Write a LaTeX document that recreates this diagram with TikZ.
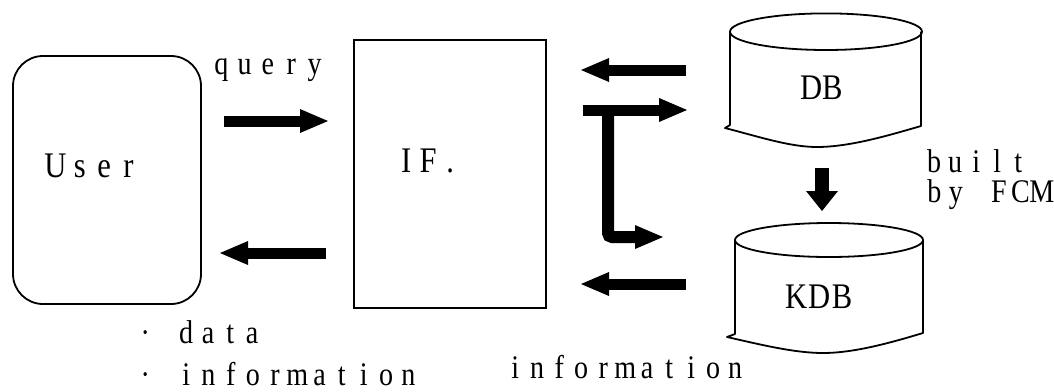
\documentclass[tikz,border=0pt]{standalone}
\usepackage{fontspec}
\setmainfont{Liberation Serif}[FakeStretch=0.85]
\usetikzlibrary{arrows.meta}
\ExplSyntaxOn
\NewDocumentCommand\monotext{O{22pt}m}{\str_map_inline:nn{#2}{\makebox[#1][c]{##1}}}
\ExplSyntaxOff
\begin{document}
\begin{tikzpicture}[x=1pt,y=-1pt,
  box/.style={draw, line width=1.8pt, inner sep=0},
  txt/.style={font=\fontsize{33}{36}\selectfont, inner sep=0, anchor=base west},
  bigtxt/.style={font=\fontsize{36}{40}\selectfont, inner sep=0, anchor=base west},
  fat/.style={line width=11pt, -{Triangle[length=28pt 0 0,width=24pt 0 0,line width=0pt]}},
  cyl/.style={line width=1.8pt, line join=round}]
\useasboundingbox (0,0) rectangle (1054,391);
% boxes
\node[box, rounded corners=30pt, minimum width=188pt, minimum height=248pt] (user) at (107,180) {};
\node[box, minimum width=192pt, minimum height=268pt] (if) at (450,174) {};
% cylinders
\draw[cyl] (826,31.7) ellipse [x radius=96pt, y radius=18.3pt];
\draw[cyl] (730,31.7) -- (730,125) -- (725,128) .. controls (760,137) and (790,147) .. (817,147) .. controls (850,147) and (890,135) .. (921,126) -- (921,31.7);
\draw[cyl] (829,240) ellipse [x radius=94pt, y radius=17pt];
\draw[cyl] (735,240) -- (735,334) -- (727,337) .. controls (762,345) and (795,353) .. (823,353) .. controls (855,353) and (893,342) .. (923,333) -- (923,240);
% labels
\node[bigtxt] (userlbl) at (43,177) {\monotext[24.4pt]{User}};
\node[bigtxt] (iflbl) at (395,172) {\monotext[22pt]{IF.}};
\node[bigtxt] (db) at (800.5,99) {\monotext[21pt]{DB}};
\node[bigtxt] (kdb) at (784.5,308) {\monotext[23pt]{KDB}};
\node[txt] (query) at (209.5,74) {\monotext[23.3pt]{query}};
\node[txt] (built) at (923.5,172) {\monotext[21pt]{built}};
\node[txt] (byfcm) at (923.5,202) {\monotext[21.5pt]{by FCM}};
\node[txt] (data) at (134,343) {\makebox[41pt][l]{\makebox[22pt]{·}}\monotext[22pt]{data}};
\node[txt] (info1) at (134,385) {\makebox[41pt][l]{\makebox[22pt]{·}}\monotext[22.2pt]{information}};
\node[txt] (info2) at (504,378) {\monotext[22pt]{information}};
% arrow end points
\coordinate (q1) at (224,121);   \coordinate (q2) at (328,121);
\coordinate (r1) at (326,253);   \coordinate (r2) at (220,253);
\coordinate (a1) at (686,70);    \coordinate (a2) at (581,70);
\coordinate (b1) at (583,110);   \coordinate (b2) at (687,110);
\coordinate (l1) at (608,110);   \coordinate (lc) at (608,237);  \coordinate (l2) at (663,237);
\coordinate (k1) at (686,284);   \coordinate (k2) at (581,284);
\coordinate (d1) at (822,168);   \coordinate (d2) at (822,211);
% arrows
\draw[fat] (q1) -- (q2);
\draw[fat] (r1) -- (r2);
\draw[fat] (a1) -- (a2);
\draw[fat] (b1) -- (b2);
\draw[fat, line width=12pt, rounded corners=4pt] (l1) -- (lc) -- (l2);
\draw[fat] (k1) -- (k2);
\draw[line width=14pt, -{Triangle[length=20pt 0 0,width=32pt 0 0,line width=0pt]}] (d1) -- (d2);
\end{tikzpicture}
\end{document}
